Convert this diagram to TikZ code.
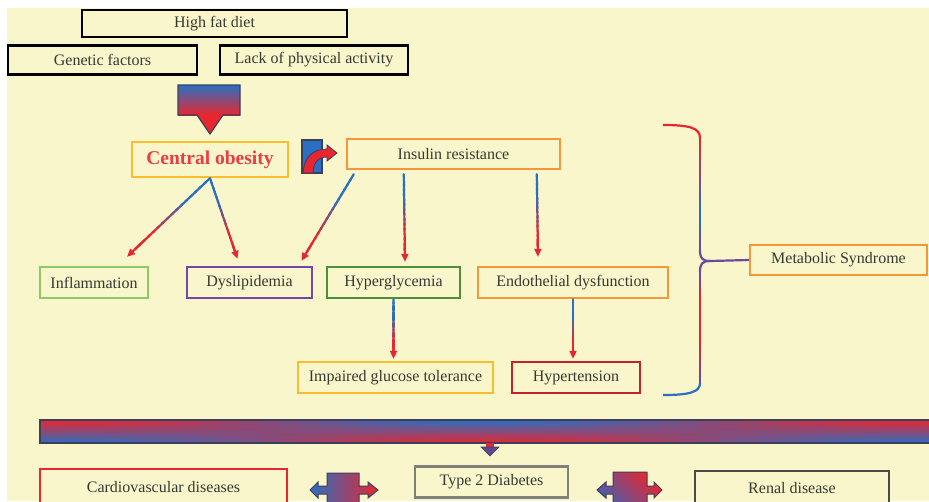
\documentclass[tikz,border=0pt]{standalone}
\usepackage{fontspec}
\setmainfont{Liberation Serif}
\usetikzlibrary{calc,arrows.meta}
\definecolor{bg}{HTML}{FAF6CC}
\definecolor{txt}{HTML}{333A33}
\definecolor{cred}{HTML}{E8262E}
\definecolor{cblue}{HTML}{2A6FC2}
\definecolor{cpurp}{HTML}{6A4A9A}
\definecolor{cnavy}{HTML}{3B3F5C}
\definecolor{cyel}{HTML}{F7BE2E}
\definecolor{corange}{HTML}{F4963A}
\definecolor{clgreen}{HTML}{8DC965}
\definecolor{cviolet}{HTML}{7446A8}
\definecolor{cdgreen}{HTML}{4F8F3C}
\definecolor{cdred}{HTML}{C42228}
\definecolor{cgray}{HTML}{808078}
\definecolor{cdark}{HTML}{4A4A48}
\newcommand\gradarrow[2]{%
  \foreach \k in {0,...,15}{%
    \pgfmathsetmacro\ga{0.9*\k/16}%
    \pgfmathsetmacro\gb{0.9*min(1,(\k+1.3)/16)}%
    \pgfmathtruncatemacro\gp{max(0,min(100,(\k/15-0.3)*200))}%
    \draw[line width=2.2pt, line cap=round, cred!\gp!cblue] ($(#1)!\ga!(#2)$) -- ($(#1)!\gb!(#2)$);
  }%
  \draw[line width=2.2pt, cred, -{Triangle[length=8pt,width=7pt]}] ($(#1)!0.8!(#2)$) -- (#2);
}
\newcommand\gseg[4]{%
  \foreach \k in {0,...,9}{%
    \pgfmathsetmacro\ga{\k/10}%
    \pgfmathsetmacro\gb{min(1,(\k+1.2)/10)}%
    \pgfmathtruncatemacro\gp{\k*100/9}%
    \draw[line width=2.2pt, line cap=round, #4!\gp!#3] ($(#1)!\ga!(#2)$) -- ($(#1)!\gb!(#2)$);
  }%
}
\begin{document}
\begin{tikzpicture}[x=1pt,y=-1pt,
  box/.style={draw, line width=2.4pt, fill=bg, inner sep=0pt, text=txt,
    font=\fontsize{16}{18}\selectfont},
  outl/.style={line width=1.2pt, draw=cnavy, line join=miter}]
\clip (0,0) rectangle (929,501);
\fill[white] (0,0) rectangle (929,501);
\fill[bg] (7,8) rectangle (929,501);

% top boxes
\node[box, draw=black, minimum width=265pt, minimum height=27pt] (hfd) at (214.5,23.5) {High fat diet};
\node[box, draw=black, minimum width=189pt, minimum height=29pt] (gen) at (102.5,60) {Genetic factors};
\node[box, draw=black, minimum width=188pt, minimum height=29pt] (lack) at (314,60) {Lack of physical activity};

% block arrow down
\shade[top color=cblue, bottom color=cred] (178,85) rectangle (240,115);
\fill[cred] (197,115) -- (223,115) -- (210,134) -- cycle;
\draw[outl] (178,85) -- (240,85) -- (240,115) -- (223,115) -- (210,134) -- (197,115) -- (178,115) -- cycle;

% central obesity & insulin resistance
\node[box, draw=cyel, minimum width=156pt, minimum height=35pt, text=cred!90!white,
  font=\fontsize{19.5}{22}\selectfont\bfseries] (co) at (210,159.5) {Central obesity};
\node[box, draw=corange, minimum width=213pt, minimum height=30pt] (ir) at (453.5,154) {Insulin resistance};

% bent arrow icon
\fill[cblue] (302,140) rectangle (322,173);
\draw[outl] (302,140) rectangle (322,173);
\filldraw[fill=cred, draw=cnavy, line width=0.8pt] (303,173) .. controls (304,158) and (312,149) .. (327,149) -- (327,145) -- (337,153) -- (327,161) -- (327,157) .. controls (318,157) and (313,163) .. (313,173) -- cycle;

% middle row
\node[box, draw=clgreen, minimum width=108pt, minimum height=31pt] (infl) at (94,282.5) {Inflammation};
\node[box, draw=cviolet, minimum width=125pt, minimum height=31pt] (dys) at (249.5,282.5) {Dyslipidemia};
\node[box, draw=cdgreen, minimum width=133pt, minimum height=31pt] (hyp) at (393.5,282.5) {Hyperglycemia};
\node[box, draw=corange, minimum width=190pt, minimum height=31pt] (endo) at (573,282.5) {Endothelial dysfunction};
\node[box, draw=cyel, minimum width=195pt, minimum height=31pt] (igt) at (395.5,377.5) {Impaired glucose tolerance};
\node[box, draw=cdred, minimum width=128pt, minimum height=31pt] (htn) at (576,377.5) {Hypertension};
\node[box, draw=corange, minimum width=177pt, minimum height=30pt] (ms) at (838.5,260) {Metabolic Syndrome};

% arrow end / start points
\coordinate (ir1) at ($(ir.south west)+(8,4)$);
\coordinate (ir2) at ($(ir.south west)+(58,4)$);
\coordinate (ir3) at ($(ir.south west)+(191,4)$);
\coordinate (t1) at ($(infl.north)+(33,-9)$);
\coordinate (t2) at ($(dys.north)+(-12,-7)$);
\coordinate (t3) at ($(dys.north)+(52,-5)$);
\coordinate (t4) at ($(hyp.north)+(11.5,-4)$);
\coordinate (t5) at ($(endo.north)+(-35,-9)$);
\coordinate (t6) at ($(igt.north)+(-2,-2)$);
\coordinate (t7) at ($(htn.north)+(-3,-2)$);

\gradarrow{co.south}{t1}
\gradarrow{co.south}{t2}
\gradarrow{ir1}{t3}
\gradarrow{ir2}{t4}
\gradarrow{ir3}{t5}
\gradarrow{hyp.south}{t6}
\gradarrow{endo.south}{t7}

% brace
\coordinate (b0) at (663,125);
\coordinate (b1) at (700,138);
\coordinate (b2) at (700,215);
\coordinate (b3) at (700,250);
\coordinate (bc) at (710,261);
\coordinate (b4) at (700,272);
\coordinate (b5) at (700,300);
\coordinate (b6) at (700,340);
\coordinate (b7) at (700,383);
\coordinate (b8) at (663,395);
\draw[line width=2.2pt, cred] (b0) .. controls (690,125) and (700,128) .. (b1);
\gseg{b1}{b2}{cred}{cblue}
\gseg{b2}{b3}{cblue}{cpurp}
\draw[line width=2.2pt, cpurp] (b3) .. controls (700,258) and (702,261) .. (bc);
\draw[line width=2.2pt, cpurp] (b4) .. controls (700,264) and (702,261) .. (bc);
\draw[line width=2.2pt, cpurp] (bc) -- (ms.west);
\gseg{b4}{b5}{cpurp}{cred}
\draw[line width=2.2pt, cred] (b5) -- (b6);
\gseg{b6}{b7}{cred}{cpurp}
\draw[line width=2.2pt, cblue] (b7) .. controls (700,392) and (690,395) .. (b8);

% big bar
\foreach \i in {0,...,44}{%
  \pgfmathsetmacro\xa{40+\i*20}%
  \pgfmathtruncatemacro\pt{50+50*cos(360*\i/44)}%
  \pgfmathtruncatemacro\pb{50-50*cos(360*\i/44)}%
  \shade[top color=cred!\pt!cblue, bottom color=cred!\pb!cblue] (\xa,420) rectangle ++(20.6,23);
}
\draw[line width=1.5pt, cnavy] (40,420) rectangle (935,443);
\fill[cred] (486,443) rectangle (494,447);
\filldraw[fill=cpurp!80!cnavy, draw=cnavy, line width=0.6pt] (481,447) -- (499,447) -- (490,456) -- cycle;

% bottom row
\node[box, draw=cred, minimum width=247pt, minimum height=37pt] (cvd) at (163.5,487.5) {Cardiovascular diseases};
\node[box, draw=cgray, minimum width=153pt, minimum height=31pt] (t2d) at (491.5,482) {Type 2 Diabetes};
\node[box, draw=cdark, minimum width=194pt, minimum height=35pt] (ren) at (792,488.5) {Renal disease};

% double arrows
\shade[left color=cblue, right color=cred, draw=cnavy, line width=1pt]
  (310,490) -- (318,482) -- (318,486) -- (327,486) -- (327,473) -- (359,473) -- (359,486) -- (368,486) -- (368,482) -- (378,490) -- (368,498) -- (368,494) -- (359,494) -- (359,510) -- (327,510) -- (327,494) -- (318,494) -- (318,498) -- cycle;
\shade[top color=cred, bottom color=cblue!60!cpurp, shading angle=-45, draw=cnavy, line width=1pt]
  (597,490) -- (606,482) -- (606,486) -- (613,486) -- (613,472) -- (647,472) -- (647,486) -- (654,486) -- (654,482) -- (662,490) -- (654,498) -- (654,494) -- (647,494) -- (647,510) -- (613,510) -- (613,494) -- (606,494) -- (606,498) -- cycle;
\end{tikzpicture}
\end{document}
